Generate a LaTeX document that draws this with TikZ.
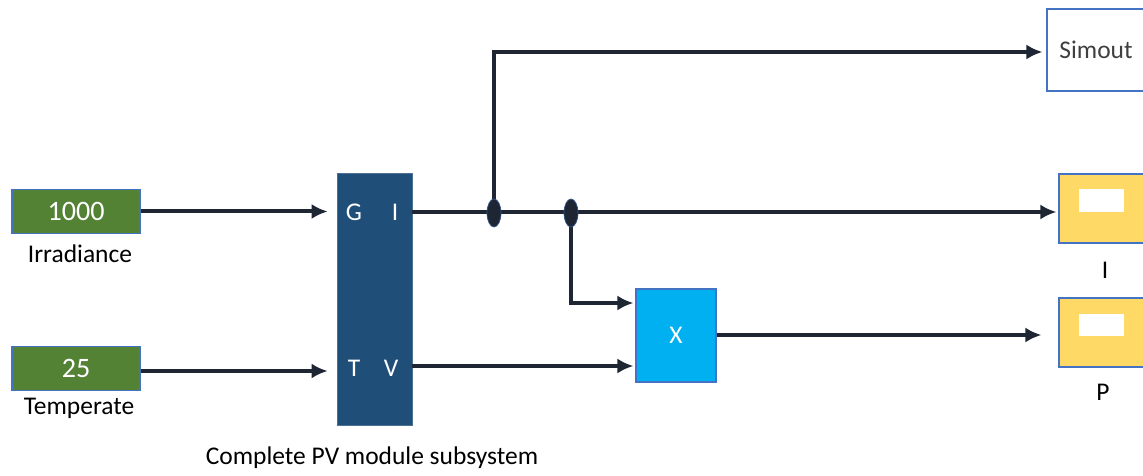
\documentclass[tikz,border=0pt]{standalone}
\usepackage{fontspec}
\setmainfont{Carlito}
\usepackage{xcolor}
\usetikzlibrary{arrows.meta,shapes.geometric}
\definecolor{wire}{HTML}{1E2633}
\definecolor{srcgreen}{HTML}{548235}
\definecolor{edgeblue}{HTML}{4472C4}
\definecolor{pvblue}{HTML}{1F4E79}
\definecolor{mulcyan}{HTML}{00B0F0}
\definecolor{dispyellow}{HTML}{FFD966}

\begin{document}
\begin{tikzpicture}[x=0.02cm, y=-0.02cm,
  font=\fontsize{14.5}{17}\selectfont,
  sig/.style={draw=wire, line width=0.08cm, -{Latex[length=0.32cm,width=0.3cm]}},
  srcbox/.style={draw=edgeblue, fill=srcgreen, line width=0.6pt, text=white,
    minimum width=2.56cm, minimum height=0.88cm, inner sep=0pt,
    font=\fontsize{16}{18}\selectfont},
  dispbox/.style={draw=edgeblue, fill=dispyellow, line width=0.6pt,
    minimum width=1.7cm, minimum height=1.38cm, inner sep=0pt},
  dispwin/.style={fill=white, minimum width=0.9cm, minimum height=0.46cm, inner sep=0pt},
  junction/.style={ellipse, draw=edgeblue!60!wire, fill=wire, line width=0.4pt,
    minimum width=0.28cm, minimum height=0.56cm, inner sep=0pt},
  port/.style={text=white, inner sep=0pt}]
  \useasboundingbox (0,0) rectangle (1143,476);
  \clip (0,0) rectangle (1143,476);
  % sources
  \node[srcbox] (irr) at (76,211.5) {1000};
  \node (irrlbl) at (80,254) {Irradiance};
  \node[srcbox] (temp) at (76,368.5) {25};
  \node (templbl) at (79,408) {Temperate};
  % PV module subsystem
  \node[fill=pvblue, draw=pvblue!80!white, minimum width=1.5cm, minimum height=5.04cm,
    inner sep=0pt] (pv) at (374.5,299) {};
  \node[port] (pG) at (354,212) {G};
  \node[port] (pI) at (395,212) {I};
  \node[port] (pT) at (354,368) {T};
  \node[port] (pV) at (391,368) {V};
  \node (pvlbl) at (372,458) {Complete PV module subsystem};
  % product block
  \node[fill=mulcyan, draw=edgeblue, line width=0.6pt, text=white,
    minimum width=1.6cm, minimum height=1.86cm, inner sep=0pt] (mul) at (676,335.5) {X};
  % sinks
  \node[draw=edgeblue, line width=0.6pt, fill=white, text=black!75,
    minimum width=1.96cm, minimum height=1.64cm, inner sep=0pt] (simout) at (1096,50) {Simout};
  \node[dispbox] (dispI) at (1101.5,208.5) {};
  \node[dispwin] (winI) at (1101.5,200.5) {};
  \node (lblI) at (1105,270) {I};
  \node[dispbox] (dispP) at (1101.5,332.5) {};
  \node[dispwin] (winP) at (1101.5,325) {};
  \node (lblP) at (1103,392) {P};
  % branch points on the current line
  \coordinate (iout) at (412,212);
  \coordinate (vout) at (412,366);
  \coordinate (top) at (494,52);
  \coordinate (down) at (571,303);
  % wires
  \draw[sig, shorten >=0.18cm] (irr.east) -- (irr.east -| pv.west);
  \draw[sig, shorten >=0.18cm] (temp.east |- 0,371) -- (pv.west |- 0,371);
  \draw[sig, shorten >=0.04cm] (iout) -- (iout -| dispI.west);
  \draw[sig, shorten >=0.08cm] (top |- iout) -- (top) -- (top -| simout.west);
  \draw[sig, shorten >=0.04cm] (down |- iout) -- (down) -- (down -| mul.west);
  \draw[sig, shorten >=0.04cm] (vout) -- (vout -| mul.west);
  \draw[sig, shorten >=0.34cm] (mul.east |- 0,335) -- (dispP.west |- 0,335);
  \node[junction] (j1) at (494,213) {};
  \node[junction] (j2) at (571,213) {};
\end{tikzpicture}
\end{document}
